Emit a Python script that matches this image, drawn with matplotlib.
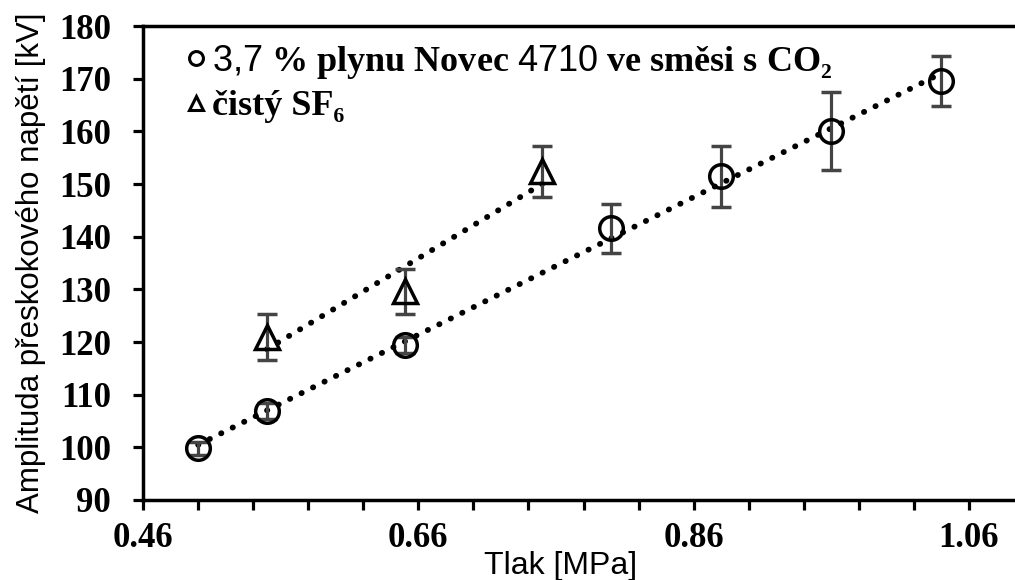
import numpy as np
import matplotlib.pyplot as plt
from matplotlib.lines import Line2D

plt.rcParams['mathtext.fontset'] = 'custom'
plt.rcParams['mathtext.sf'] = 'Liberation Sans'
plt.rcParams['mathtext.rm'] = 'Liberation Serif:bold'

# 3,7 % Novec 4710 in CO2
p_novec = [0.50, 0.55, 0.65, 0.80, 0.88, 0.96, 1.04]
u_novec = [99.8, 106.9, 119.5, 141.6, 151.5, 160.1, 169.6]
err_novec = [1.2, 1.5, 1.5, 4.7, 5.8, 7.4, 4.8]

# pure SF6
p_sf6 = [0.55, 0.65, 0.75]
u_sf6 = [121.0, 129.6, 152.4]
err_sf6 = [4.4, 4.3, 4.8]

label_novec = r'$\mathsf{3{,}7}$ % plynu Novec $\mathsf{4710}$ ve směsi s CO₂'
label_sf6 = 'čistý SF₆'

fig = plt.figure(figsize=(10.15, 5.8), dpi=100)
ax = fig.add_axes([0.141, 0.138, 0.859, 0.817])

dot = dict(color='black', lw=4.2, linestyle=(0, (0.05, 2.15)), dash_capstyle='round')
for p, u in [(p_novec, u_novec), (p_sf6, u_sf6)]:
    k, q = np.polyfit(p, u, 1)
    xs = np.array([min(p), max(p)])
    ax.plot(xs, k * xs + q, zorder=2, **dot)

ebar = dict(ecolor='#444444', elinewidth=2.3, capsize=7, capthick=2.3, linestyle='none',
            mfc='none', mec='black', mew=2.5, zorder=3)
ax.errorbar(p_novec, u_novec, yerr=err_novec, marker='o', ms=17, **ebar)
ax.errorbar(p_sf6, u_sf6, yerr=err_sf6, marker='^', ms=17, **ebar)

ax.set_xlim(0.46, 1.0935)
ax.set_ylim(90, 180)
ax.set_xticks(np.arange(0.46, 1.09, 0.04), minor=True)
ax.set_xticks([0.46, 0.66, 0.86, 1.06])
ax.set_xticklabels(['0.46', '0.66', '0.86', '1.06'])
ax.set_yticks(np.arange(90, 181, 10))

for lab in ax.get_xticklabels() + ax.get_yticklabels():
    lab.set_fontfamily('Liberation Serif')
    lab.set_fontweight('bold')
    lab.set_fontsize(25)

ax.tick_params(which='both', direction='out', width=2.3, length=7, color='black')
ax.tick_params(axis='x', which='both', pad=9)
ax.tick_params(axis='y', pad=16)
ax.spines['right'].set_visible(False)
for s in ['left', 'bottom', 'top']:
    ax.spines[s].set_linewidth(2.5)

ax.set_xlabel('Tlak [MPa]', family='Liberation Sans', fontsize=23)
ax.set_ylabel('Amplituda přeskokového napětí [kV]', family='Liberation Sans', fontsize=22.5)
ax.xaxis.set_label_coords(0.479, -0.108)
ax.yaxis.set_label_coords(-0.111, 0.5)

handles = [Line2D([], [], marker='o', ls='none', mfc='none', mec='black', mew=2.2, ms=10),
           Line2D([], [], marker='^', ls='none', mfc='none', mec='black', mew=2.2, ms=10)]
ax.legend(handles, [label_novec, label_sf6], loc='upper left', frameon=False,
          prop=dict(family='Liberation Serif', weight='bold', size=26),
          handletextpad=0.05, handlelength=0.8, borderaxespad=0.0, labelspacing=0.25,
          bbox_to_anchor=(0.027, 0.995))

fig.savefig('out.png', dpi=100)
